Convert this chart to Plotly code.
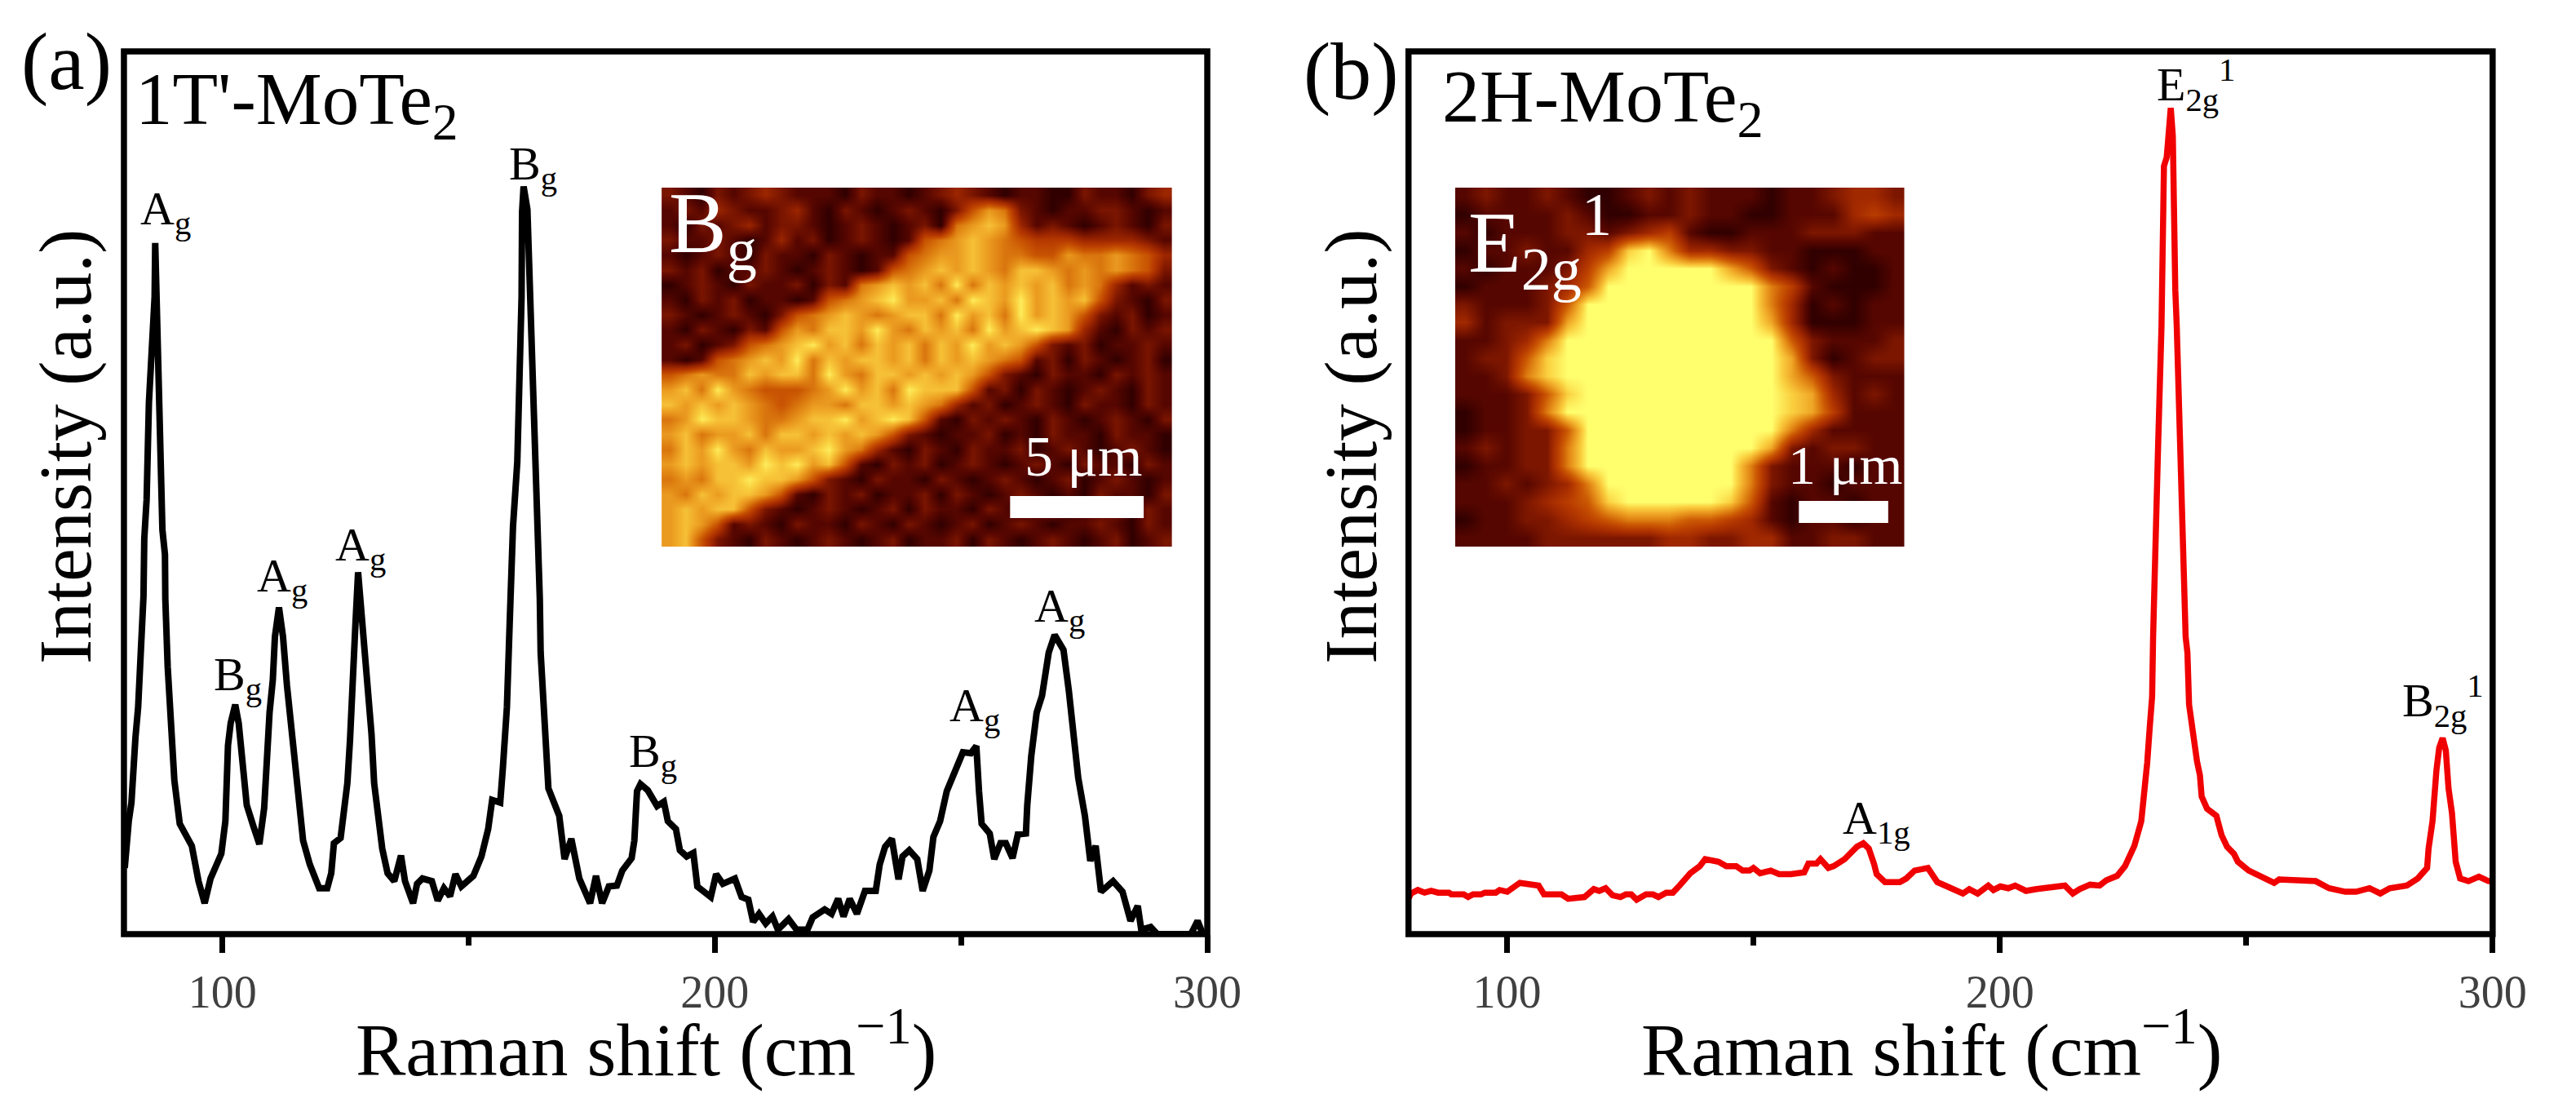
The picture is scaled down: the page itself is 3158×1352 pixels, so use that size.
import plotly.graph_objects as go

# ---- spectrum (a): 1T'-MoTe2
a_x = [80.16,80.43,80.98,81.52,81.8,82.34,82.88,83.16,83.59,83.97,84.13,84.6,85.07,85.65,86.23,86.35,86.64,86.93,87.4,87.81,88.33,88.4,88.88,89.42,89.96,90.24,91.33,93.78,95.14,96.39,97.59,99.77,100.6,100.86,101.13,101.67,102.6,103.3,104.13,104.94,106.3,107.5,108.48,109.03,109.57,110.23,110.66,111.48,112.3,113.1,113.93,114.75,115.56,116.38,117.74,119.65,121.28,122.1,122.64,124.0,124.82,125.37,125.91,126.18,126.73,127.0,127.55,128.36,129.18,129.73,130.27,130.81,131.63,132.45,133.54,134.9,136.26,137.08,138.71,139.53,140.62,142.53,143.72,144.98,146.23,147.32,148.52,150.97,152.6,153.96,154.78,156.41,156.96,157.77,158.32,158.6,159.0,159.88,160.34,160.75,160.85,161.16,161.93,162.5,163.09,163.68,164.25,164.45,164.62,165.4,165.94,166.2,168.4,168.94,169.48,170.85,171.66,172.48,174.66,175.86,177.11,178.47,180.1,181.2,183.1,183.65,183.92,184.19,184.9,186.37,188.27,189.64,190.45,192.09,192.9,194.27,195.63,196.44,199.17,200.26,201.62,204.07,205.43,206.8,207.77,208.97,210.33,211.7,212.8,214.97,216.6,218.8,219.87,222.3,223.7,225.04,226.13,227.38,228.85,230.49,232.67,233.48,234.57,235.94,237.3,238.11,239.48,241.1,242.2,243.56,244.38,245.74,247.1,248.73,250.37,252.0,253.1,253.64,254.18,255.82,256.74,258.0,259.08,260.45,261.53,263.17,263.44,264.26,265.35,266.44,267.8,269.0,270.8,271.88,272.7,273.79,275.15,276.24,277.33,278.42,280.87,282.78,284.41,285.88,286.59,288.5,289.86,296.67,298.03,299.1,300]
a_y = [7.5,10.3,12.8,14.9,18.3,22.3,25.7,29.1,32.8,38.3,44.8,49.2,60.2,67.6,72.2,78.3,72.2,63,54.1,45.8,43.0,38,30.3,25.7,21.4,17.4,12.5,10.0,6.0,3.5,6.3,9.1,12.8,17.1,21.4,23.9,26.0,23.9,18.9,14.6,12.2,10.2,14.3,20.2,25.1,28.8,33.7,37.0,33.7,28.2,23.6,18.3,14.0,10.6,7.9,5.2,5.2,6.9,10.3,10.9,14.6,17.1,22.0,26.3,30.7,35.0,41.0,35.3,31.6,27.6,22.7,17.1,13.7,9.7,6.9,6.0,8.9,6.0,3.5,5.7,6.3,6.0,3.8,5.2,4.3,6.8,5.4,6.6,8.8,11.9,15.2,14.9,18.9,25.7,35.0,40.5,46.1,53.5,62.1,72.2,81.8,84.7,82.1,72.6,63.6,54.7,46.4,38,31.9,24.8,19.6,16.5,13.4,10.3,8.5,10.8,8.8,6.3,3.5,6.6,3.5,5.4,5.5,7.2,8.6,10.6,13.4,16.2,17.0,16.3,14.5,15.0,12.8,11.9,9.5,8.8,9.2,5.4,4.2,6.8,5.7,6.3,4.2,3.9,1.4,2.3,1.2,2.0,0.5,1.7,0.5,0.5,1.9,2.8,2.3,4.0,2.0,4.0,2.3,4.9,4.9,7.9,9.9,10.8,6.2,8.8,9.5,8.5,4.9,7.2,11.0,12.8,16.2,18.6,20.6,20.5,21.3,16.2,12.5,11.4,8.5,10.3,10.3,8.6,11.3,11.4,14.6,20.2,25.1,27.0,31.9,33.9,32.2,27.6,23.0,17.7,13.4,8.3,10.0,4.8,6.0,4.8,1.5,3.2,0.5,0.8,0.0,0.0,1.5,0.0,0.0]

# ---- spectrum (b): 2H-MoTe2
b_x = [80.0,80.5,81.9,83.27,84.6,86,88.2,88.7,91.2,92.1,93.1,94.7,95.5,97.7,98.5,100.05,101.8,102.6,106.4,107.5,111.05,112.4,115.7,117.6,118.7,120.0,121.4,123.0,124.1,125.2,126.3,128.2,129.6,130.7,132.3,133.65,135.0,137.2,139.1,140.2,142.9,144.5,146.5,147.8,149.2,150.0,151.35,153.5,155.2,157.6,160.3,161.15,162.8,163.6,165.2,166.3,168.5,171.0,172.3,173.4,174.5,175.0,176.7,179.7,181.0,182.7,185.4,187.3,188.9,192.5,193.8,195.5,197.65,198.7,200.1,201.7,203.1,205.3,207.45,211.8,213.2,214.8,216.2,218.3,220.25,221.6,223.8,225.4,227.3,228.7,229.3,229.9,230.4,230.9,231.1,231.6,232.1,232.8,232.94,233.3,233.86,234.68,235.1,235.2,235.6,235.9,236.4,236.9,237.3,237.7,238.06,238.4,239.0,239.5,240.0,240.6,240.95,242.05,243.94,245.0,246.1,247.5,248.3,250.5,253.2,255.65,256.7,261.1,264.1,266.8,270.1,272.3,275,277.2,279.1,282.6,284.8,286.7,287,287.8,288.1,288.6,289.15,289.85,290.5,291.05,291.75,292.1,292.5,293.4,295.1,297.2,299.2,300]
b_y = [4.0,4.6,5.0,4.7,4.9,4.7,4.7,4.5,4.5,4.2,4.5,4.5,4.7,4.7,5.0,4.8,5.5,5.8,5.5,4.5,4.5,4.0,4.2,5.1,4.9,5.2,4.4,4.2,4.5,4.5,3.9,4.5,4.5,4.2,4.7,4.7,5.5,6.9,7.7,8.5,8.2,7.7,7.7,7.2,7.2,7.5,6.9,7.2,6.8,6.8,7.0,8.0,8.0,8.5,7.5,7.7,8.5,9.9,10.3,9.7,7.9,6.8,5.9,5.9,6.3,7.2,7.5,5.9,5.5,4.6,5.1,4.6,5.5,5.0,5.4,5.2,5.5,4.9,5.1,5.3,5.5,4.6,5.1,5.6,5.5,6.1,6.6,7.7,10,12.8,15.9,19.4,23.3,26.9,33.7,42,55,68.8,76.7,87,88,93.6,90.4,81.5,73,68.8,58,48,40,33.7,31.9,26,23.6,21.4,19.6,18,15.6,14.2,13.4,11.2,9.9,9.1,8.2,7.2,6.5,5.8,6.2,6.0,6.0,5.2,4.8,4.8,5.2,4.6,5.2,5.5,6.3,7.5,9.7,12.8,15.2,18.6,21.1,22.2,20.8,16.5,13.7,10.9,8.2,6.3,6.0,6.5,6.0,6.0]

x_ticks = [100, 200, 300]
x_minor_ticks = [150, 250]
x_range = [80, 300]

# ---- mapping insets (intensity read by eye on a 0-9 scale)
map_a = [
"21021232111021101232101100211023",
"12132112310210121025762101122101",
"10212312210121012067873121012102",
"21121013120121015678765444333321",
"10121021102101156778766557667653",
"21201121012101567878768876767652",
"01210211202167878696878786763121",
"10212011015678977869879787852102",
"21012102567876788697869787521201",
"10210215768879768786978987310212",
"12012567897868786879787521201121",
"10156787968788786878765120210120",
"56766878869768878787521021102121",
"78697655567978698885120210121021",
"87878765677688787631201210211021",
"67988766788978985102121021012102",
"78677868878787521011201021102110",
"68797687789763102102112012101210",
"78788798978510212012101210211021",
"67688988752102110210121012012101",
"76878875102120112021012101021102",
"78788521012101202110210120112021",
"78751210211021021012012101121021",
"78521021012101201120210121012012",
]
map_b = [
"1211210012121110112332",
"0111121001121100111343",
"1011122123410011122211",
"0112113489633221100011",
"1011124799999752101001",
"0111235999999996410001",
"2111259999999996301011",
"3122279999999997300011",
"1123699999999999521112",
"1225899999999999720122",
"1126899999999999752111",
"1112589999999999873121",
"0112699999999999874111",
"0112259999999999631111",
"1212269999999997212211",
"0112269999999962111011",
"1121236999999962110111",
"1112345899999851011011",
"0112234566655431011011",
"1111222222332233112211",
]
map_colors = [[0.0,"#300000"],[0.11,"#560600"],[0.22,"#7c1600"],[0.33,"#a02800"],[0.44,"#b83c00"],
              [0.56,"#cc5a04"],[0.67,"#de8012"],[0.78,"#efa626"],[0.89,"#fad040"],[1.0,"#ffff6e"]]

W, H = 3158, 1352
SERIF = "Liberation Serif"

def fx(px): return px / W
def fy(py): return 1 - py / H

fig = go.Figure()

def hidden(**kw):
    return dict(visible=False, showgrid=False, zeroline=False, **kw)

def x_axis(left, right):
    return dict(domain=[fx(left), fx(right)], range=x_range, tickvals=x_ticks, ticks="outside", ticklen=22,
                tickwidth=7, tickcolor="#000", showgrid=False, zeroline=False, showline=False,
                tickfont=dict(family=SERIF, size=56, color="#404040"),
                minor=dict(tickvals=x_minor_ticks, ticks="outside", ticklen=13, tickwidth=7, tickcolor="#000", showgrid=False))

def y_axis():
    return dict(domain=[fy(1145), fy(63)], range=[0, 100], showticklabels=False, ticks="", showgrid=False,
                zeroline=False, showline=False)

fig.add_trace(go.Scatter(x=a_x, y=a_y, mode="lines", line=dict(color="#000000", width=8), xaxis="x", yaxis="y", showlegend=False))
fig.add_trace(go.Scatter(x=b_x, y=b_y, mode="lines", line=dict(color="#f00000", width=7.5), xaxis="x2", yaxis="y2", showlegend=False))
fig.add_trace(go.Heatmap(z=[[int(c) for c in r] for r in map_a], colorscale=map_colors, zmin=0, zmax=9.4, zsmooth="best",
                         showscale=False, xaxis="x3", yaxis="y3"))
fig.add_trace(go.Heatmap(z=[[int(c) for c in r] for r in map_b], colorscale=map_colors, zmin=0, zmax=9, zsmooth="best",
                         showscale=False, xaxis="x4", yaxis="y4"))

def frame(l, r):
    return dict(type="rect", xref="paper", yref="paper", x0=fx(l), x1=fx(r), y0=fy(1145), y1=fy(63),
                line=dict(color="#000", width=7.5), fillcolor="rgba(0,0,0,0)", layer="above")

def bar(l, r, t, b):
    return dict(type="rect", xref="paper", yref="paper", x0=fx(l), x1=fx(r), y0=fy(b), y1=fy(t),
                line=dict(width=0), fillcolor="#fff", layer="above")

anns = []
def label(text, left, base, size, color="#000"):
    # left edge and baseline in page pixels
    anns.append(dict(text=text, xref="paper", yref="paper", x=fx(left), y=fy(base - 0.98 * size),
                     xanchor="left", yanchor="top", showarrow=False, align="left",
                     font=dict(family=SERIF, size=size, color=color)))

# panel marks and sample names
label("(a)", 24, 116, 100)
label("(b)", 1618, 128, 100)
label("1T'-MoTe<sub>2</sub>", 166, 158, 91)
label("2H-MoTe<sub>2</sub>", 1790, 155, 92)

# peak labels
PK = 58
for t, l, b in [("A<sub>g</sub>", 172, 278), ("B<sub>g</sub>", 263, 849), ("A<sub>g</sub>", 317, 728),
                ("A<sub>g</sub>", 415, 690), ("B<sub>g</sub>", 630, 223), ("B<sub>g</sub>", 779, 943),
                ("A<sub>g</sub>", 1178, 887), ("A<sub>g</sub>", 1283, 765),
                ("E<sub>2g</sub><sup>1</sup>", 2678, 118), ("A<sub>1g</sub>", 2287, 1025),
                ("B<sub>2g</sub><sup>1</sup>", 2983, 873)]:
    label(t, l, b, PK)

# inset labels
label("B<sub>g</sub>", 829, 317, 106, "#fff")
label("5 μm", 1271, 588, 70, "#fff")
label("E<sub>2g</sub><sup>1</sup>", 1822, 324, 106, "#fff")
label("1 μm", 2220, 597, 68, "#fff")

# axis titles
for cx in (803, 2400):
    anns.append(dict(text="Raman shift (cm<sup>−1</sup>)", xref="paper", yref="paper", x=fx(cx), y=fy(1310 - 0.98 * 92),
                     xanchor="center", yanchor="top", showarrow=False,
                     font=dict(family=SERIF, size=92, color="#000")))
for bx in (112, 1709):
    anns.append(dict(text="Intensity (a.u.)", xref="paper", yref="paper", x=fx(bx - 30), y=fy(547),
                     xanchor="center", yanchor="middle", textangle=-90, showarrow=False,
                     font=dict(family=SERIF, size=91, color="#000")))

fig.update_layout(
    width=W, height=H, margin=dict(l=0, r=0, t=0, b=0), paper_bgcolor="#fff", plot_bgcolor="rgba(0,0,0,0)", showlegend=False,
    xaxis=x_axis(154, 1500), yaxis=y_axis(),
    xaxis2=x_axis(1750, 3097), yaxis2=dict(y_axis(), anchor="x2"),
    xaxis3=hidden(domain=[fx(822), fx(1456)], range=[-0.5, 31.5], anchor="y3"),
    yaxis3=hidden(domain=[fy(670), fy(230)], range=[23.5, -0.5], anchor="x3"),
    xaxis4=hidden(domain=[fx(1808), fx(2366)], range=[-0.5, 21.5], anchor="y4"),
    yaxis4=hidden(domain=[fy(670), fy(230)], range=[19.5, -0.5], anchor="x4"),
    shapes=[frame(154, 1500), frame(1750, 3097), bar(1255, 1421, 608, 635), bar(2235, 2346, 614, 641)],
    annotations=anns,
)
fig.layout.xaxis2.anchor = "y2"

fig.write_html("out.html", config={"displayModeBar": False},
               post_script="document.body.style.margin='0';document.documentElement.style.overflow='hidden';")
